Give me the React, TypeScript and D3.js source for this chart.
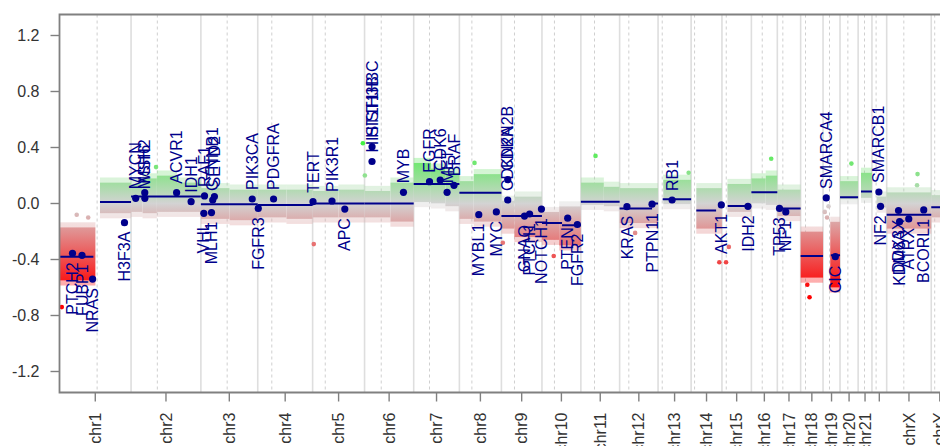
import * as d3 from "d3";

const W = 940;
const H = 446;

// hg19 chromosome sizes (Mb) and centromere positions as drawn
const chromNames = ["chr1","chr2","chr3","chr4","chr5","chr6","chr7","chr8","chr9","chr10","chr11","chr12","chr13","chr14","chr15","chr16","chr17","chr18","chr19","chr20","chr21","chr22","chrX","chrY"];
const chromLengths = [249.25,243.2,198.02,191.15,180.92,171.12,159.14,146.36,141.21,135.53,135.01,133.85,115.17,107.35,102.53,90.35,81.2,78.08,59.13,63.03,48.13,51.3,155.27,59.37];
const centromeres = [131,91.5,91.5,49,44,58,55,43.5,45.5,43.5,47.5,32,14.5,12,15,37.8,19.2,17,22.5,27.3,22.3,14.5,59.7,12];
// chr22 label is dropped by the axis (overlap)
const chromLabels = ["chr1","chr2","chr3","chr4","chr5","chr6","chr7","chr8","chr9","chr10","chr11","chr12","chr13","chr14","chr15","chr16","chr17","chr18","chr19","chr20","chr21","","chrX","chrY"];

const yTicks = [-1.2, -0.8, -0.4, 0, 0.4, 0.8, 1.2];

// probe cloud envelope per region: chromosome, from/to (Mb), upper/lower log2 ratio
const cloudChr = ["chr1","chr1","chr2","chr2","chr2","chr2","chr3","chr3","chr4","chr4","chr5","chr5","chr6","chr6","chr7","chr7","chr7","chr8","chr8","chr9","chr9","chr10","chr10","chr11","chr11","chr12","chr13","chr14","chr15","chr16","chr16","chr17","chr18","chr19","chr20","chr21","chr22","chrX","chrY"];
const cloudFrom = [0,141,0,40,90,160,0,100,0,100,0,90,0,90,0,60,110,0,50,0,45,0,60,0,80,0,18,18,19,0,50,0,0,25,0,10,16,0,0];
const cloudTo = [125,249.25,40,90,160,243.2,100,198.02,100,191.15,90,180.92,90,171.12,60,110,159.14,50,146.36,45,141.21,60,135.53,80,135.01,133.85,115.17,107.35,102.53,50,90.35,81.2,78.08,59.13,63.03,48.13,51.3,155.27,59.37];
const cloudHigh = [-0.17,0.15,0.14,0.18,0.2,0.15,0.11,0.1,0.1,0.1,0.09,0.1,0.09,0.15,0.29,0.25,0.22,0.16,0.21,0.02,0.05,-0.06,-0.02,0.15,0.12,0.11,0.17,0.11,0.14,0.18,0.2,0.1,-0.2,-0.13,0.16,0.22,0.05,0.08,0.06];
const cloudLow = [-0.55,-0.07,-0.06,-0.07,-0.06,-0.06,-0.11,-0.12,-0.1,-0.11,-0.1,-0.1,-0.1,-0.13,0.01,0.0,-0.02,-0.11,-0.13,-0.18,-0.24,-0.26,-0.3,-0.01,-0.02,-0.14,-0.005,-0.18,-0.06,0.0,-0.01,-0.09,-0.53,-0.6,0.03,0.04,-0.03,-0.18,-0.1];

// isolated probes outside the cloud
const outChr = ["chr1","chr2","chr5","chr5","chr6","chr8","chr9","chr10","chr11","chr12","chr13","chr14","chr15","chr15","chr16","chr18","chr18","chr20","chrX","chrX","chr19","chr19","chr19","chr1","chr1"];
const outPos = [8,87,4,175,1,52.7,5,41,51,54,106.6,98.2,14.3,24,69,23.3,31,39.6,107.5,105.8,6,14,19,60,100];
const outValue = [-0.74,0.26,-0.29,0.43,0.2,0.29,-0.28,-0.375,0.34,-0.21,0.22,-0.42,-0.42,-0.31,0.32,-0.58,-0.67,0.285,0.21,0.13,-0.06,-0.1,-0.02,-0.08,-0.1];

// segments
const segChr = ["chr1","chr1","chr2","chr3","chr4","chr5","chr6","chr7","chr8","chr9","chr10","chr10","chr11","chr12","chr12","chr13","chr14","chr15","chr16","chr17","chr18","chr19","chr20","chr21","chrX","chrY"];
const segFrom = [0,141,0,0,0,0,0,0,0,0,0,70,0,0,113,16,18,20,0,0,0,27,0,10,0,0];
const segTo = [118,249.25,243.2,198.02,191.15,180.92,171.12,159.14,146.36,141.21,70,135.53,135.01,113,133.85,115.17,87,90,90.35,81.2,78.08,59.13,63.03,48.13,155.27,59.37];
const segValue = [-0.38,0.01,0.05,-0.005,-0.01,0.0,0.0,0.14,0.077,-0.09,-0.14,-0.155,0.013,-0.035,0.0,0.03,-0.05,-0.018,0.08,-0.035,-0.375,-0.37,0.045,0.085,-0.08,-0.027];

// detail genes
const geneNames = ["PTCH2","FUBP1","NRAS","H3F3A","MYCN","MSH2","MSH6","ACVR1","IDH1","VHL","RAF1","MLH1","CTNNB1","SETD2","PIK3CA","FGFR3","PDGFRA","TERT","PIK3R1","APC","HIST1H3B","HIST1H3C","MYB","EGFR","CDK6","MET","BRAF","MYBL1","MYC","CDKN2A","CDKN2B","GNAQ","PTCH1","NOTCH1","PTEN","FGFR2","KRAS","PTPN11","RB1","AKT1","IDH2","TP53","NF1","SMARCA4","CIC","SMARCB1","NF2","DDX3X","KDM6A","ATRX","BCORL1"];
const geneChr = ["chr1","chr1","chr1","chr1","chr2","chr2","chr2","chr2","chr2","chr3","chr3","chr3","chr3","chr3","chr3","chr4","chr4","chr5","chr5","chr5","chr6","chr6","chr6","chr7","chr7","chr7","chr7","chr8","chr8","chr9","chr9","chr9","chr9","chr9","chr10","chr10","chr12","chr12","chr13","chr14","chr15","chr17","chr17","chr19","chr19","chr22","chr22","chrX","chrX","chrX","chrX"];
const genePos = [45.3,78.4,115.3,226.3,16.1,47.7,48.0,158.6,209.1,10.2,12.6,37.0,41.2,47.1,178.9,1.8,55.1,1.3,67.5,112.1,26.0,26.05,135.5,55.1,92.3,116.3,140.4,67.5,128.7,21.97,22.0,80.4,98.2,139.4,89.6,123.3,25.4,112.9,48.9,105.2,90.6,7.6,29.5,11.1,42.8,24.1,30.0,41.2,44.9,76.9,129.1];
const geneValue = [-0.356,-0.37,-0.54,-0.137,0.037,0.077,0.037,0.077,0.013,-0.07,0.054,-0.065,0.025,0.05,0.032,-0.035,0.032,0.013,0.018,-0.04,0.3,0.405,0.08,0.156,0.168,0.08,0.13,-0.08,-0.06,0.025,0.17,-0.09,-0.075,-0.04,-0.105,-0.15,-0.023,-0.005,0.025,-0.01,-0.02,-0.035,-0.06,0.04,-0.38,0.082,-0.02,-0.05,-0.13,-0.11,-0.046];

const DARKBLUE = "#00008b";
const FONT = "'Liberation Sans', Arial, Helvetica, sans-serif";

export default function App() {
  const starts = [0, ...Array.from(d3.cumsum(chromLengths))];
  const total = starts[starts.length - 1];
  const idx = (c: string) => chromNames.indexOf(c);
  const g = (c: string, p: number) => starts[idx(c)] + p;

  const x = d3.scaleLinear().domain([0, total]).range([59.5, 948.3]);
  const y = d3.scaleLinear().domain([-1.35, 1.35]).range([392.5, 14.5]);
  const left = x(0);
  const top = y(1.35);
  const bottom = y(-1.35);

  const clouds = cloudChr.map((c, i) => ({
    x0: x(g(c, cloudFrom[i])),
    x1: x(g(c, cloudTo[i])),
    y0: y(cloudHigh[i]),
    y1: y(cloudLow[i]),
  }));

  return (
    <svg width={W} height={H} style={{ position: "absolute", left: 0, top: 0, background: "#fff" }} fontFamily={FONT}>
      <defs>
        <linearGradient id="ratio" gradientUnits="userSpaceOnUse" x1={0} x2={0} y1={y(0.625)} y2={y(-0.625)}>
          <stop offset="0" stopColor="#00ff00" />
          <stop offset="0.5" stopColor="#d3d3d3" />
          <stop offset="1" stopColor="#ff0000" />
        </linearGradient>
        <clipPath id="plot">
          <rect x={left} y={top} width={W - left} height={bottom - top} />
        </clipPath>
      </defs>

      <g clipPath="url(#plot)">
        {starts.slice(1, -1).map((s, i) => (
          <line key={"b" + i} x1={x(s)} x2={x(s)} y1={top} y2={bottom} stroke="#dedede" strokeWidth={1.6} />
        ))}
        {centromeres.map((c, i) => (
          <line key={"c" + i} x1={x(starts[i] + c)} x2={x(starts[i] + c)} y1={top} y2={bottom} stroke="#cfcfcf" strokeWidth={1} strokeDasharray="3,3" />
        ))}

        {/* sparse fringe of the probe cloud */}
        {clouds.map((d, i) => (
          <g key={"fr" + i} fill="url(#ratio)" opacity={0.35}>
            <rect x={d.x0} y={d.y0 - 5} width={d.x1 - d.x0} height={5} />
            <rect x={d.x0} y={d.y1} width={d.x1 - d.x0} height={5} />
          </g>
        ))}
        {clouds.map((d, i) => (
          <rect key={"cl" + i} x={d.x0} y={d.y0} width={d.x1 - d.x0} height={d.y1 - d.y0} fill="url(#ratio)" />
        ))}
        {outChr.map((c, i) => (
          <circle key={"o" + i} cx={x(g(c, outPos[i]))} cy={y(outValue[i])} r={2.3} fill="url(#ratio)" />
        ))}

        {segChr.map((c, i) => (
          <line key={"s" + i} x1={x(g(c, segFrom[i]))} x2={x(g(c, segTo[i]))} y1={y(segValue[i])} y2={y(segValue[i])} stroke={DARKBLUE} strokeWidth={2} />
        ))}

        {geneNames.map((n, i) => {
          const gx = x(g(geneChr[i], genePos[i]));
          const gy = y(geneValue[i]);
          const above = geneValue[i] > 0;
          return (
            <g key={"g" + n}>
              <circle cx={gx} cy={gy} r={3.6} fill={DARKBLUE} />
              <text
                transform={`translate(${gx},${above ? gy - 9 : gy + 9}) rotate(-90)`}
                textAnchor={above ? "start" : "end"}
                dy="0.35em"
                fontSize={16}
                fill={DARKBLUE}
              >
                {n}
              </text>
            </g>
          );
        })}
      </g>

      {/* frame */}
      <path d={`M${W + 5},${top}H${left}V${bottom}H${W + 5}`} fill="none" stroke="#808080" strokeWidth={1.8} />

      {/* y axis */}
      {yTicks.map((t) => (
        <g key={"y" + t}>
          <line x1={left - 9} x2={left} y1={y(t)} y2={y(t)} stroke="#808080" strokeWidth={1.4} />
          <text x={left - 20} y={y(t)} dy="0.35em" textAnchor="end" fontSize={16} fill="#333">
            {t.toFixed(1)}
          </text>
        </g>
      ))}

      {/* x axis */}
      {chromNames.map((c, i) => {
        const cx = x(starts[i] + chromLengths[i] / 2);
        return (
          <g key={"x" + c}>
            <line x1={cx} x2={cx} y1={bottom} y2={bottom + 9} stroke="#808080" strokeWidth={1.4} />
            {chromLabels[i] && (
              <text transform={`translate(${cx},${bottom + 20}) rotate(-90)`} textAnchor="end" dy="0.35em" fontSize={16} fill="#333">
                {chromLabels[i]}
              </text>
            )}
          </g>
        );
      })}
    </svg>
  );
}
